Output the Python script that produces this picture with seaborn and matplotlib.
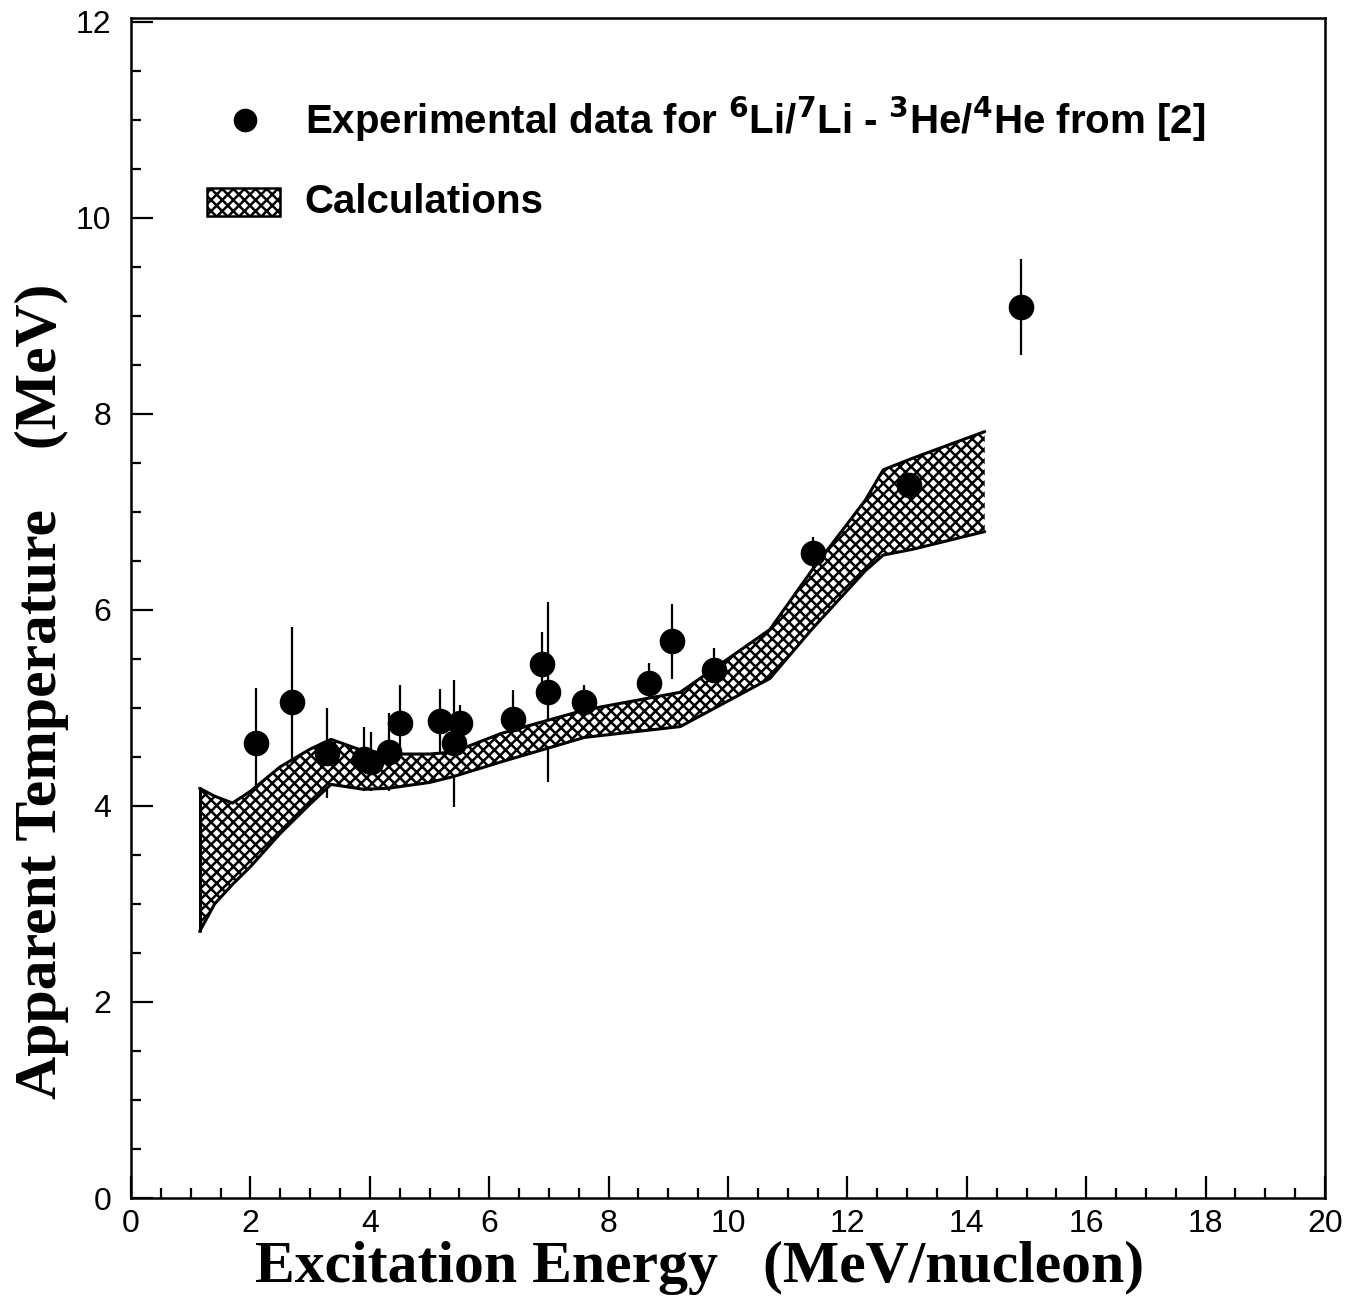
import matplotlib
matplotlib.use("Agg")
import matplotlib.pyplot as plt
from matplotlib.patches import Rectangle
from matplotlib.ticker import MultipleLocator
import numpy as np
import pandas as pd
import seaborn as sns

# Experimental apparent temperatures (6Li/7Li - 3He/4He thermometer)
exc_energy = [2.09, 2.70, 3.28, 3.90, 4.02, 4.32, 4.50, 5.18, 5.41, 5.51,
              6.40, 6.88, 6.99, 7.59, 8.67, 9.07, 9.77, 11.43, 13.03, 14.91]
temperature = [4.64, 5.06, 4.54, 4.48, 4.45, 4.55, 4.85, 4.87, 4.64, 4.85,
               4.89, 5.45, 5.16, 5.06, 5.25, 5.68, 5.39, 6.58, 7.28, 9.09]
temp_err = [0.56, 0.77, 0.46, 0.33, 0.30, 0.40, 0.38, 0.32, 0.65, 0.18,
            0.29, 0.33, 0.92, 0.17, 0.21, 0.38, 0.22, 0.16, 0.10, 0.49]

# Calculated band (upper / lower limits)
calc_energy = [1.15, 1.40, 1.70, 2.00, 2.50, 3.00, 3.35, 3.90, 4.30, 5.00,
               5.40, 6.20, 7.60, 9.20, 10.70, 11.40, 12.30, 12.60, 13.10, 14.30]
calc_upper = [4.18, 4.10, 4.03, 4.15, 4.40, 4.58, 4.68, 4.56, 4.53, 4.53,
              4.55, 4.74, 4.98, 5.16, 5.80, 6.40, 7.12, 7.43, 7.55, 7.82]
calc_lower = [2.72, 3.00, 3.20, 3.38, 3.72, 4.02, 4.22, 4.17, 4.18, 4.24,
              4.30, 4.45, 4.70, 4.81, 5.30, 5.80, 6.40, 6.56, 6.62, 6.80]

x_ticks = [0, 2, 4, 6, 8, 10, 12, 14, 16, 18, 20]
y_ticks = [0, 2, 4, 6, 8, 10, 12]

exp_df = pd.DataFrame({"E": exc_energy, "T": temperature, "dT": temp_err})
calc_df = pd.DataFrame({"E": calc_energy, "upper": calc_upper, "lower": calc_lower})

sns.set_style("ticks")
plt.rcParams["font.family"] = ["Liberation Sans", "DejaVu Sans"]
plt.rcParams["text.color"] = "black"
plt.rcParams["axes.labelcolor"] = "black"
plt.rcParams["xtick.color"] = "black"
plt.rcParams["ytick.color"] = "black"
plt.rcParams["axes.edgecolor"] = "black"
plt.rcParams["hatch.linewidth"] = 1.8
plt.rcParams["mathtext.fontset"] = "custom"
plt.rcParams["mathtext.rm"] = "Liberation Sans Narrow:bold"
plt.rcParams["mathtext.bf"] = "Liberation Sans Narrow:bold"

fig = plt.figure(figsize=(13.54, 13.08), dpi=100)
ax = fig.add_axes([131 / 1354, 1 - 1198 / 1308, (1325 - 131) / 1354, (1198 - 18) / 1308])

# error bars first, the band covers them
ax.errorbar(exp_df["E"], exp_df["T"], yerr=exp_df["dT"], fmt="none",
            ecolor="black", elinewidth=1.6, capsize=0, zorder=1)

# hatched calculation band
ax.fill_between(calc_df["E"], calc_df["lower"], calc_df["upper"],
                facecolor="white", edgecolor="black", hatch="xxx",
                linewidth=0, zorder=2)
sns.lineplot(data=calc_df, x="E", y="upper", color="black", lw=2.2, ax=ax, zorder=3)
sns.lineplot(data=calc_df, x="E", y="lower", color="black", lw=2.2, ax=ax, zorder=3)
ax.plot([calc_energy[0], calc_energy[0]], [calc_lower[0], calc_upper[0]],
        color="black", lw=2.2, zorder=3)

sns.scatterplot(data=exp_df, x="E", y="T", color="black", s=340,
                edgecolor="black", linewidth=0, ax=ax, zorder=4)

# legend drawn as annotations inside the frame
ax.plot([1.91], [11.0], "o", color="black", ms=16)
ax.text(2.91, 11.0,
        r"Experimental data for $^{6}$Li/$^{7}$Li - $^{3}$He/$^{4}$He from [2]",
        fontsize=29, fontweight="bold", family=["Liberation Sans Narrow", "Liberation Sans"],
        va="center", ha="left")
ax.add_patch(Rectangle((1.27, 10.02), 1.22, 0.29, facecolor="white",
                       edgecolor="black", hatch="xxx", lw=1.8))
ax.text(2.91, 10.16, "Calculations", fontsize=29, fontweight="bold",
        family=["Liberation Sans Narrow", "Liberation Sans"], va="center", ha="left")

ax.set_xlim(0, 20)
ax.set_ylim(0, 12.04)
ax.set_xticks(x_ticks)
ax.set_yticks(y_ticks)
ax.xaxis.set_minor_locator(MultipleLocator(0.5))
ax.yaxis.set_minor_locator(MultipleLocator(0.5))
ax.tick_params(which="both", direction="in", top=False, right=False,
               width=1.6, labelsize=23, colors="black")
ax.tick_params(axis="x", pad=8)
ax.tick_params(axis="y", pad=14)
ax.tick_params(which="major", length=16)
ax.tick_params(which="minor", length=7.5)
for s in ax.spines.values():
    s.set_linewidth(1.8)

ax.set_xlabel("Excitation Energy   (MeV/nucleon)", fontsize=43, fontweight="bold",
              family=["Liberation Serif", "DejaVu Serif"])
ax.set_ylabel("Apparent Temperature    (MeV)", fontsize=43, fontweight="bold",
              family=["Liberation Serif", "DejaVu Serif"])
ax.xaxis.set_label_coords(0.4766, -0.036)
ax.yaxis.set_label_coords(-0.052, 0.429)

fig.savefig("out.png", dpi=100, facecolor="white")
